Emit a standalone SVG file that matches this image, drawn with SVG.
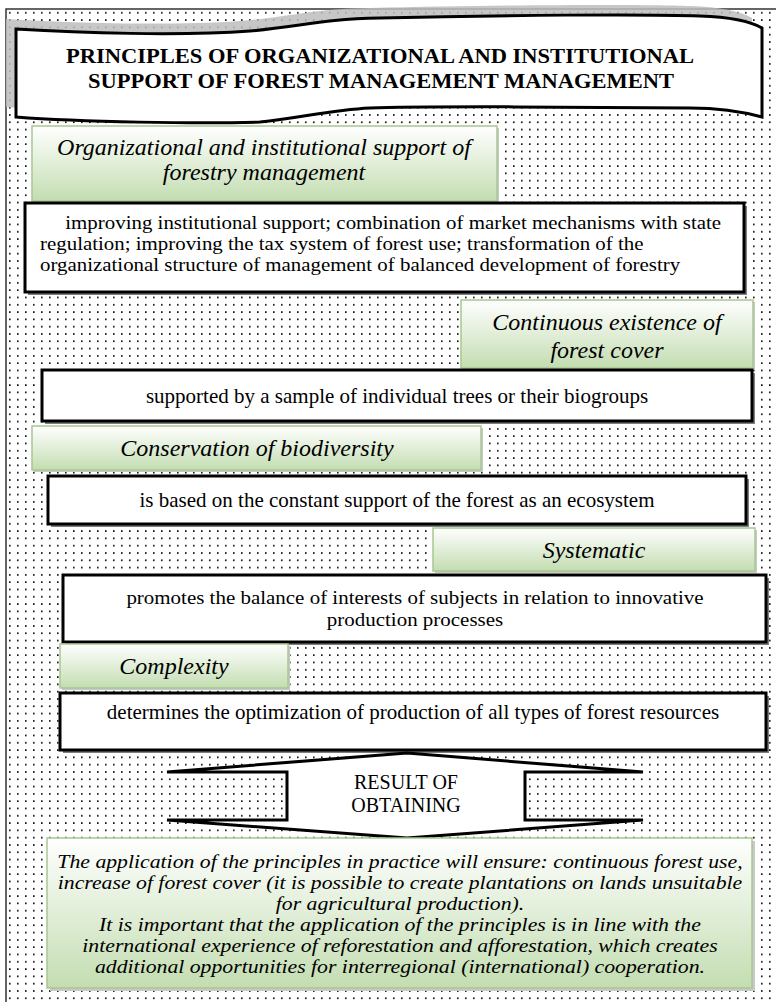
<svg xmlns="http://www.w3.org/2000/svg" width="776" height="1002" viewBox="0 0 776 1002">
<defs>
<pattern id="dots" patternUnits="userSpaceOnUse" width="8" height="7.3" x="7" y="10">
<rect x="2" y="2" width="1.6" height="1.6" fill="#000"/>
</pattern>
<linearGradient id="gr" x1="0" y1="0" x2="0" y2="1">
<stop offset="0" stop-color="#ffffff"/>
<stop offset="1" stop-color="#c3ddb1"/>
</linearGradient>
<path id="banner" d="M16,29 C80,33 180,36 250,31 C300,27 320,19 380,18 C500,15 650,14 700,16 C730,17 750,21 762,28 L762,117 C740,111 720,108 690,108 C600,107 420,106 370,108 C330,110 300,118 260,122 C200,124 80,122 16,117 Z"/>
</defs>
<style>
text{font-family:"Liberation Serif","Times New Roman","DejaVu Serif",serif;fill:#000}
.frame{fill:none;stroke:#333;stroke-width:1.5}
.gbox{fill:url(#gr);stroke:#a8c88e;stroke-width:1.5}
.gsh{fill:#c8c8c8}
.bbox{fill:#fff;stroke:#000;stroke-width:3}
.bsh{fill:#7f7f7f}
.title{font-weight:bold;font-size:21px;text-anchor:middle}
.it{font-style:italic;font-size:24px;text-anchor:middle}
.tx{font-size:19px}
.txc{font-size:21px;text-anchor:middle}
.tx2{font-size:19.5px;text-anchor:middle}
.res{font-style:italic;font-size:19.5px;text-anchor:middle}
</style>
<rect x="6" y="9" width="770" height="993" fill="#fff"/>
<rect x="6" y="9" width="770" height="993" fill="url(#dots)"/>
<path class="frame" d="M6,1002 L6,9 L776,9"/>

<g id="title">
<use href="#banner" transform="translate(-10,-10)" fill="#bdbdbd" opacity="0.85"/>
<use href="#banner" fill="#fff" stroke="#000" stroke-width="3"/>
<text class="title" x="380" y="63" textLength="628" lengthAdjust="spacingAndGlyphs">PRINCIPLES OF ORGANIZATIONAL AND INSTITUTIONAL</text>
<text class="title" x="381" y="88" textLength="586" lengthAdjust="spacingAndGlyphs">SUPPORT OF FOREST MANAGEMENT MANAGEMENT</text>
</g>

<g id="p1">
<rect class="gsh" x="34" y="128" width="465" height="75"/>
<rect class="gbox" x="32" y="126" width="465" height="75"/>
<text class="it" x="264" y="155">Organizational and institutional support of</text>
<text class="it" x="264" y="180">forestry management</text>
</g>
<g id="d1">
<rect class="bsh" x="28" y="206" width="719" height="89"/>
<rect class="bbox" x="25" y="203" width="719" height="89"/>
<g transform="translate(40,0) scale(1.1,1) translate(-40,0)">
<text class="tx" x="63" y="229">improving institutional support; combination of market mechanisms with state</text>
<text class="tx" x="40" y="250">regulation; improving the tax system of forest use; transformation of the</text>
<text class="tx" x="40" y="271">organizational structure of management of balanced development of forestry</text>
</g>
</g>

<g id="p2">
<rect class="gsh" x="463" y="302" width="292" height="68"/>
<rect class="gbox" x="461" y="300" width="292" height="68"/>
<text class="it" x="607" y="330">Continuous existence of</text>
<text class="it" x="607" y="358">forest cover</text>
</g>
<g id="d2">
<rect class="bsh" x="45" y="373" width="710" height="51"/>
<rect class="bbox" x="42" y="370" width="710" height="51"/>
<text class="txc" x="397" y="403">supported by a sample of individual trees or their biogroups</text>
</g>

<g id="p3">
<rect class="gsh" x="34" y="428" width="449" height="44"/>
<rect class="gbox" x="32" y="426" width="449" height="44"/>
<text class="it" x="257" y="456">Conservation of biodiversity</text>
</g>
<g id="d3">
<rect class="bsh" x="51" y="479" width="698" height="48"/>
<rect class="bbox" x="48" y="476" width="698" height="48"/>
<text class="txc" x="397" y="507">is based on the constant support of the forest as an ecosystem</text>
</g>

<g id="p4">
<rect class="gsh" x="435" y="530" width="322" height="43"/>
<rect class="gbox" x="433" y="528" width="322" height="43"/>
<text class="it" x="594" y="558">Systematic</text>
</g>
<g id="d4">
<rect class="bsh" x="66" y="578" width="703" height="67"/>
<rect class="bbox" x="63" y="575" width="703" height="67"/>
<g transform="translate(415,0) scale(1.075,1) translate(-415,0)">
<text class="tx2" x="415" y="604">promotes the balance of interests of subjects in relation to innovative</text>
<text class="tx2" x="415" y="626">production processes</text>
</g>
</g>

<g id="p5">
<rect class="gsh" x="62" y="646" width="228" height="44"/>
<rect class="gbox" x="60" y="644" width="228" height="44"/>
<text class="it" x="174" y="674">Complexity</text>
</g>
<g id="d5">
<rect class="bsh" x="63" y="696" width="706" height="57"/>
<rect class="bbox" x="60" y="693" width="706" height="57"/>
<text class="txc" x="413" y="719">determines the optimization of production of all types of forest resources</text>
</g>

<g id="arrow">
<path d="M167,772 L407,753 L643,772 L525,772 L525,820 L643,820 L407,838 L167,820 L287,820 L287,772 Z" fill="#fff" stroke="#000" stroke-width="3" stroke-linejoin="miter"/>
<text class="txc" x="406" y="789" style="font-size:20px">RESULT OF</text>
<text class="txc" x="406" y="812" style="font-size:20px">OBTAINING</text>
</g>

<g id="result">
<rect class="gsh" x="50" y="841" width="705" height="150"/>
<rect class="gbox" x="47" y="838" width="705" height="150"/>
<g transform="translate(400,0) scale(1.115,1) translate(-400,0)">
<text class="res" x="400" y="868">The application of the principles in practice will ensure: continuous forest use,</text>
<text class="res" x="400" y="889">increase of forest cover (it is possible to create plantations on lands unsuitable</text>
<text class="res" x="400" y="910">for agricultural production).</text>
<text class="res" x="400" y="931">It is important that the application of the principles is in line with the</text>
<text class="res" x="400" y="952">international experience of reforestation and afforestation, which creates</text>
<text class="res" x="400" y="973">additional opportunities for interregional (international) cooperation.</text>
</g>
</g>
</svg>
